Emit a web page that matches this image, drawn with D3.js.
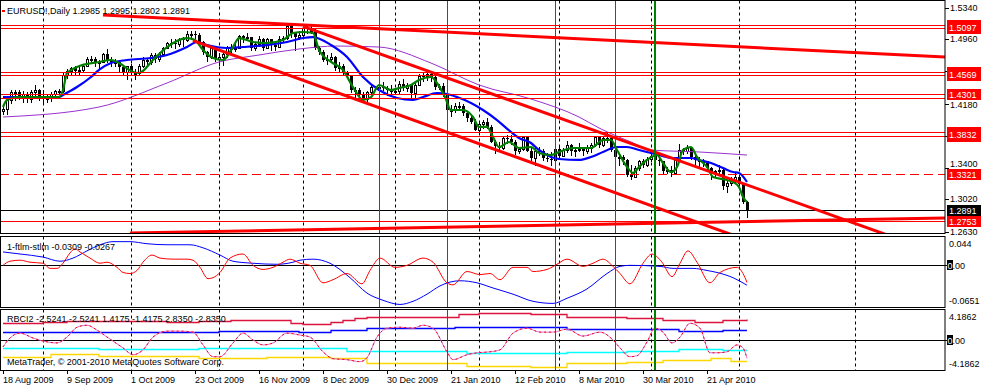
<!DOCTYPE html>
<html><head><meta charset="utf-8">
<script src="https://cdn.jsdelivr.net/npm/d3@7"></script>
<style>
html,body{margin:0;padding:0;background:#fff;}
svg{display:block;font-family:"Liberation Sans",Arial,sans-serif;font-size:9px;}
</style></head><body>
<svg id="c" width="983" height="387"></svg>
<script>
// ---------- DATA ----------
const title = "EURUSD!,Daily  1.2985 1.2995 1.2802 1.2891";
const openP = [1.4090,1.4115,1.4220,1.4320,1.4320,1.4270,1.4300,1.4230,1.4320,1.4340,1.4250,1.4240,1.4260,1.4300,1.4330,1.4330,1.4530,1.4570,1.4610,1.4570,1.4590,1.4640,1.4720,1.4720,1.4690,1.4690,1.4780,1.4700,1.4680,1.4680,1.4620,1.4560,1.4635,1.4550,1.4550,1.4640,1.4710,1.4680,1.4770,1.4720,1.4780,1.4860,1.4920,1.4910,1.4900,1.4960,1.4950,1.5020,1.5020,1.5010,1.4930,1.4800,1.4740,1.4850,1.4720,1.4740,1.4780,1.4850,1.4860,1.4860,1.5000,1.4980,1.4990,1.4860,1.4900,1.4960,1.4860,1.4960,1.4890,1.4870,1.4960,1.4970,1.5120,1.5030,1.4990,1.5010,1.5100,1.5080,1.5050,1.4860,1.4810,1.4710,1.4720,1.4750,1.4610,1.4640,1.4550,1.4520,1.4340,1.4340,1.4290,1.4230,1.4320,1.4380,1.4370,1.4380,1.4370,1.4350,1.4320,1.4330,1.4420,1.4370,1.4410,1.4310,1.4410,1.4520,1.4510,1.4540,1.4500,1.4380,1.4390,1.4290,1.4100,1.4100,1.4150,1.4150,1.4070,1.4000,1.3960,1.3865,1.3930,1.3960,1.3900,1.3720,1.3670,1.3640,1.3760,1.3750,1.3720,1.3600,1.3630,1.3770,1.3610,1.3520,1.3610,1.3600,1.3520,1.3510,1.3500,1.3630,1.3540,1.3620,1.3680,1.3600,1.3620,1.3630,1.3600,1.3640,1.3680,1.3770,1.3680,1.3760,1.3760,1.3620,1.3530,1.3530,1.3500,1.3320,1.3290,1.3400,1.3480,1.3440,1.3510,1.3550,1.3500,1.3480,1.3360,1.3370,1.3340,1.3500,1.3620,1.3610,1.3640,1.3530,1.3500,1.3470,1.3480,1.3400,1.3350,1.3360,1.3380,1.3180,1.3220,1.3240,1.3290,1.3200,1.2985];
const highP = [1.4145,1.4230,1.4340,1.4350,1.4350,1.4330,1.4320,1.4340,1.4400,1.4360,1.4350,1.4290,1.4320,1.4350,1.4360,1.4550,1.4600,1.4620,1.4630,1.4620,1.4660,1.4740,1.4760,1.4740,1.4710,1.4790,1.4845,1.4740,1.4720,1.4700,1.4640,1.4640,1.4660,1.4600,1.4660,1.4750,1.4730,1.4790,1.4790,1.4800,1.4870,1.4930,1.4960,1.4960,1.4970,1.4990,1.5060,1.5060,1.5060,1.5030,1.4940,1.4820,1.4860,1.4880,1.4790,1.4810,1.4880,1.4900,1.4900,1.5010,1.5010,1.5030,1.4990,1.4920,1.5000,1.4970,1.4970,1.4960,1.4920,1.5000,1.5000,1.5145,1.5140,1.5030,1.5060,1.5110,1.5130,1.5145,1.5080,1.4880,1.4830,1.4770,1.4790,1.4760,1.4680,1.4660,1.4580,1.4530,1.4380,1.4370,1.4320,1.4330,1.4400,1.4390,1.4400,1.4440,1.4390,1.4410,1.4340,1.4450,1.4480,1.4430,1.4420,1.4440,1.4540,1.4560,1.4580,1.4560,1.4510,1.4420,1.4430,1.4300,1.4160,1.4190,1.4200,1.4170,1.4080,1.4040,1.3990,1.3950,1.3980,1.4000,1.3920,1.3740,1.3720,1.3790,1.3800,1.3800,1.3740,1.3650,1.3790,1.3780,1.3640,1.3650,1.3650,1.3630,1.3580,1.3590,1.3650,1.3660,1.3640,1.3730,1.3690,1.3650,1.3700,1.3660,1.3680,1.3700,1.3790,1.3770,1.3790,1.3840,1.3780,1.3640,1.3570,1.3560,1.3510,1.3440,1.3420,1.3500,1.3510,1.3530,1.3580,1.3550,1.3530,1.3490,1.3410,1.3420,1.3510,1.3690,1.3640,1.3680,1.3650,1.3560,1.3530,1.3510,1.3490,1.3410,1.3380,1.3440,1.3400,1.3250,1.3290,1.3340,1.3320,1.3210,1.2995];
const lowP = [1.4060,1.4050,1.4190,1.4220,1.4230,1.4200,1.4200,1.4200,1.4280,1.4220,1.4200,1.4200,1.4210,1.4270,1.4300,1.4320,1.4490,1.4540,1.4540,1.4530,1.4560,1.4630,1.4680,1.4640,1.4600,1.4680,1.4680,1.4630,1.4630,1.4580,1.4540,1.4480,1.4530,1.4480,1.4540,1.4620,1.4650,1.4660,1.4680,1.4700,1.4770,1.4850,1.4870,1.4850,1.4880,1.4880,1.4940,1.4980,1.4970,1.4900,1.4780,1.4700,1.4730,1.4700,1.4650,1.4650,1.4740,1.4800,1.4820,1.4860,1.4930,1.4950,1.4830,1.4830,1.4880,1.4830,1.4850,1.4830,1.4830,1.4880,1.4930,1.4960,1.4990,1.4830,1.4960,1.5000,1.5040,1.5030,1.4840,1.4780,1.4700,1.4660,1.4710,1.4590,1.4580,1.4530,1.4500,1.4320,1.4250,1.4270,1.4220,1.4210,1.4300,1.4360,1.4330,1.4350,1.4290,1.4300,1.4310,1.4300,1.4340,1.4330,1.4260,1.4260,1.4400,1.4460,1.4470,1.4460,1.4360,1.4360,1.4270,1.4090,1.4030,1.4080,1.4120,1.4040,1.3970,1.3940,1.3860,1.3850,1.3890,1.3880,1.3710,1.3580,1.3610,1.3630,1.3700,1.3690,1.3570,1.3580,1.3620,1.3600,1.3500,1.3440,1.3560,1.3500,1.3480,1.3440,1.3490,1.3530,1.3540,1.3590,1.3560,1.3540,1.3600,1.3560,1.3580,1.3590,1.3670,1.3660,1.3670,1.3720,1.3600,1.3510,1.3440,1.3450,1.3300,1.3270,1.3290,1.3380,1.3410,1.3420,1.3480,1.3480,1.3440,1.3340,1.3340,1.3300,1.3330,1.3490,1.3570,1.3580,1.3510,1.3420,1.3420,1.3430,1.3380,1.3270,1.3290,1.3340,1.3150,1.3110,1.3190,1.3230,1.3190,1.2980,1.2802];
const closeP = [1.4115,1.4220,1.4320,1.4320,1.4270,1.4300,1.4230,1.4320,1.4340,1.4250,1.4240,1.4260,1.4300,1.4330,1.4330,1.4530,1.4570,1.4610,1.4570,1.4590,1.4640,1.4720,1.4720,1.4690,1.4690,1.4780,1.4700,1.4680,1.4680,1.4620,1.4560,1.4635,1.4550,1.4550,1.4640,1.4710,1.4680,1.4770,1.4720,1.4780,1.4860,1.4920,1.4910,1.4900,1.4960,1.4950,1.5020,1.5020,1.5010,1.4930,1.4800,1.4740,1.4850,1.4720,1.4740,1.4780,1.4850,1.4860,1.4860,1.5000,1.4980,1.4990,1.4860,1.4900,1.4960,1.4860,1.4960,1.4890,1.4870,1.4960,1.4970,1.5120,1.5030,1.4990,1.5010,1.5100,1.5080,1.5050,1.4860,1.4810,1.4710,1.4720,1.4750,1.4610,1.4640,1.4550,1.4520,1.4340,1.4340,1.4290,1.4230,1.4320,1.4380,1.4370,1.4380,1.4370,1.4350,1.4320,1.4330,1.4420,1.4370,1.4410,1.4310,1.4410,1.4520,1.4510,1.4540,1.4500,1.4380,1.4390,1.4290,1.4100,1.4100,1.4150,1.4150,1.4070,1.4000,1.3960,1.3865,1.3930,1.3960,1.3900,1.3720,1.3670,1.3640,1.3760,1.3750,1.3720,1.3600,1.3630,1.3770,1.3610,1.3520,1.3610,1.3600,1.3520,1.3510,1.3500,1.3630,1.3540,1.3620,1.3680,1.3600,1.3620,1.3630,1.3600,1.3640,1.3680,1.3770,1.3680,1.3760,1.3760,1.3620,1.3530,1.3530,1.3500,1.3320,1.3290,1.3400,1.3480,1.3440,1.3510,1.3550,1.3500,1.3480,1.3360,1.3370,1.3340,1.3500,1.3620,1.3610,1.3640,1.3530,1.3500,1.3470,1.3480,1.3400,1.3350,1.3360,1.3380,1.3180,1.3220,1.3240,1.3290,1.3200,1.2985,1.2891];

// moving averages: [bar index, price]
const maFast = [[0,1.4139],[1,1.4224],[4,1.4260],[14,1.4260],[15,1.4345],[16,1.4551],[18.5,1.4624],[24,1.4685],[27,1.4709],[29,1.4672],[32.5,1.4563],[34,1.4551],[37.5,1.4709],[41,1.4866],[46,1.4975],[48,1.4951],[50,1.4830],[52.5,1.4733],[55,1.4709],[57.5,1.4866],[59,1.4975],[62.5,1.4927],[66,1.4915],[70,1.4951],[72.5,1.5036],[75,1.5048],[77.5,1.5036],[79,1.4830],[82,1.4685],[85,1.4588],[87.5,1.4381],[90,1.4224],[92,1.4260],[94,1.4406],[97,1.4345],[99,1.4369],[102,1.4406],[104,1.4466],[107,1.4503],[108.5,1.4430],[110.5,1.4260],[112,1.4103],[115,1.4103],[117.5,1.4018],[119,1.3897],[121,1.3897],[122.5,1.3775],[124,1.3654],[126.5,1.3715],[129,1.3642],[132,1.3654],[134,1.3581],[137,1.3557],[139,1.3594],[142.5,1.3642],[147,1.3642],[150,1.3739],[152,1.3739],[153.5,1.3618],[156,1.3412],[157.5,1.3339],[159,1.3412],[161,1.3497],[163.5,1.3557],[165,1.3460],[167,1.3351],[168.5,1.3412],[170,1.3618],[172,1.3654],[173.5,1.3533],[176,1.3412],[177.5,1.3291],[181,1.3254],[182.5,1.3230],[184,1.3169],[185,1.3048],[186,1.2987]];
const maMid = [[0,1.4260],[14,1.4260],[15,1.4285],[18.5,1.4381],[22,1.4503],[24,1.4588],[27,1.4672],[31,1.4709],[37,1.4733],[41,1.4769],[46,1.4866],[48.5,1.4927],[51,1.4890],[56,1.4854],[60,1.4866],[66,1.4890],[71,1.4927],[75,1.4975],[77.5,1.4987],[82,1.4890],[86,1.4745],[90,1.4503],[94,1.4345],[98.5,1.4248],[102.5,1.4224],[105,1.4260],[108.5,1.4309],[111,1.4297],[113.5,1.4260],[117,1.4188],[120,1.4103],[123.5,1.3981],[127,1.3836],[129,1.3763],[132,1.3703],[134,1.3618],[137,1.3533],[139,1.3509],[144,1.3497],[147,1.3533],[150,1.3594],[153.5,1.3654],[156,1.3654],[159,1.3618],[162,1.3581],[164,1.3557],[167.5,1.3521],[172,1.3521],[174,1.3497],[177,1.3460],[180,1.3400],[182.5,1.3351],[184,1.3339],[186,1.3230]];
const maSlow = [[0,1.4018],[24,1.4139],[41,1.4430],[54,1.4685],[64,1.4769],[74,1.4842],[83.5,1.4878],[94,1.4866],[107,1.4672],[119,1.4406],[132,1.4236],[144,1.4018],[149,1.3885],[157,1.3715],[162,1.3618],[174,1.3594],[186,1.3557]];

// horizontal levels and trend lines (bar index, price)
const levelsSolid = [1.5131,1.5097,1.4569,1.4522,1.4301,1.4250,1.3832,1.3787,1.2753];
const levelDashed = [1.3321];
const bidPrice = 1.2891;
// level markers: [top price, bottom price, shown text]
const labelBoxes = [[1.5131,1.5097,"1.5097"],[1.4569,1.4522,"1.4569"],[1.4301,1.4301,"1.4301"],[1.3832,1.3787,"1.3832"],[1.3321,1.3321,"1.3321"],[1.2753,1.2753,"1.2753"]];
const trendLines = [
  [[25,1.5254],[235.5,1.4745]],
  [[75,1.5116],[235.5,1.2338]],
  [[47.5,1.4943],[235,1.1670]],
  [[31.75,1.2612],[235.5,1.2794]]
];
const priceTicks = [1.5340,1.4960,1.4570,1.4180,1.3790,1.3400,1.3020,1.2630];
const hiddenTicks = [1.4570,1.3790];
const timeLabels = ["18 Aug 2009","9 Sep 2009","1 Oct 2009","23 Oct 2009","16 Nov 2009","8 Dec 2009","30 Dec 2009","21 Jan 2010","12 Feb 2010","8 Mar 2010","30 Mar 2010","21 Apr 2010"];
const timeLabelBars = [0,16,32,48,64,80,96,112,128,144,160,176];
const gridBars = [10,32,54,75,98,119,139,162,184,213];
const vGreenThin = [94,138];
const vGreenThick = [163];
const vRed = [111,153];

// sub window 1: ftlm / stlm
const ftlm = [[0,-0.0003],[1.75,0.0060],[4.25,0.0076],[6.75,0.0045],[10,0.0029],[11.75,-0.0050],[13.5,-0.0050],[15,0.0029],[16.75,0.0187],[18,0.0250],[19.25,0.0203],[21.75,0.0108],[24.25,0.0029],[26,0.0045],[28.5,-0.0034],[30,-0.0113],[31.75,-0.0129],[33.5,-0.0082],[35,0.0045],[37.25,0.0155],[39.25,0.0108],[42.5,0.0092],[46,0.0092],[47.5,0.0076],[49.25,-0.0034],[51.25,-0.0208],[52.5,-0.0193],[54.25,-0.0113],[56.75,0.0108],[60,0.0171],[62.5,-0.0003],[65,-0.0066],[67.5,-0.0034],[70,0.0045],[71.75,0.0092],[74.25,0.0029],[76.75,-0.0003],[80,-0.0272],[82.5,-0.0224],[86,-0.0129],[89.75,-0.0287],[91.75,-0.0082],[94.25,0.0108],[98,-0.0034],[101,-0.0003],[105,0.0108],[107.5,0.0045],[111,-0.0272],[112.5,-0.0303],[116,-0.0098],[119.25,-0.0145],[121.75,-0.0129],[124.25,-0.0224],[127.5,-0.0034],[131,-0.0034],[132.5,-0.0098],[136,-0.0066],[138.5,0.0013],[141,0.0092],[145,-0.0019],[147.5,0.0029],[150,0.0092],[152.5,-0.0019],[154.25,-0.0129],[156.75,-0.0287],[160,0.0029],[162.25,0.0171],[164.75,0.0045],[167.25,-0.0177],[169.25,0.0029],[171.25,0.0219],[173.5,0.0045],[176.75,-0.0272],[179.25,-0.0113],[183.5,-0.0034],[185,-0.0129],[186,-0.0267]];
const stlm = [[0,0.0203],[4.25,0.0171],[10,0.0124],[14.25,0.0060],[17.5,0.0108],[21,0.0219],[24.25,0.0313],[27.5,0.0361],[31.75,0.0361],[36,0.0329],[41,0.0313],[46.75,0.0313],[50,0.0266],[54.25,0.0155],[57.5,0.0060],[62.5,0.0029],[68.5,0.0013],[72.5,0.0045],[74.25,0.0076],[77.5,0.0092],[81.75,0.0029],[86.75,-0.0193],[91,-0.0430],[95,-0.0540],[99.25,-0.0604],[102.5,-0.0556],[106,-0.0446],[109.25,-0.0319],[114.25,-0.0240],[118.5,-0.0272],[122.5,-0.0351],[127.5,-0.0446],[132.5,-0.0556],[137.5,-0.0588],[141,-0.0509],[146,-0.0366],[151,-0.0129],[154.25,-0.0019],[156.75,-0.0003],[164.25,-0.0019],[167.5,-0.0050],[172.5,-0.0050],[176,-0.0082],[178.5,-0.0113],[182.5,-0.0193],[186,-0.0309]];
const sub1Label = "1-ftlm-stlm -0.0309 -0.0267";
const sub1Range = [-0.0651, 0.044];

// sub window 2: RBCI2
const rbci = [[0,-0.945],[1.75,0.270],[4.25,0.945],[7.5,0.270],[10,-0.135],[13.5,-0.405],[16,0.405],[18.5,1.756],[21,2.026],[23.5,1.350],[26,0.405],[30,-1.080],[32.5,-2.026],[35,-1.350],[37.5,0.405],[41,1.215],[44.25,1.215],[47.5,1.080],[50,-0.675],[52.5,-2.296],[54.25,-2.296],[57.5,-0.405],[60,0.945],[62.5,0.000],[65,-0.675],[67.5,-0.405],[71,0.945],[74.25,0.675],[76.75,0.405],[80,-1.621],[82.5,-2.566],[86,-2.701],[89.25,-2.971],[91,-2.431],[93.5,0.405],[96,1.621],[99.25,1.756],[102.5,1.621],[105,2.026],[107.5,1.621],[111,-1.621],[112.5,-2.701],[116,-2.026],[118.5,-1.756],[121.75,-1.621],[124.25,-1.350],[127.5,0.945],[131,1.621],[134.25,1.080],[137.5,1.080],[141,1.486],[145,0.540],[149.25,1.080],[152.5,0.000],[154.25,-1.080],[156.75,-2.296],[158.5,-2.161],[161,-0.270],[163,1.621],[165,1.080],[167.25,-0.405],[169.25,0.405],[171.75,2.296],[174.25,1.621],[176.75,-1.756],[178.5,-1.756],[181,-1.621],[183.5,-0.675],[185,-1.080],[186,-2.5241]];
const bandUp2 = [[0,2.30],[10,2.43],[16,2.57],[41,2.43],[49,2.57],[57,2.70],[72,2.30],[75,2.16],[82,2.43],[85,2.70],[88,2.97],[91,3.11],[114,3.51],[119,3.65],[132,3.51],[141,3.11],[156,2.97],[165,2.70],[173,2.43],[180,2.70],[186,2.835]];
const bandUp1 = [[0,1.08],[54,1.215],[74,1.08],[82,1.35],[91,1.62],[113,1.756],[141,1.486],[169,1.215],[180,1.4175],[186,1.4175]];
const bandDn1 = [[0,-1.08],[24,-1.215],[49,-1.08],[86,-1.486],[116,-1.756],[141,-1.621],[156,-1.486],[169,-1.215],[180,-1.4175],[186,-1.4175]];
const bandDn2 = [[0,-2.30],[12,-1.89],[24,-2.16],[49,-2.43],[66,-2.30],[82,-2.43],[91,-3.11],[116,-3.51],[132,-3.65],[141,-3.11],[156,-2.97],[165,-2.70],[177,-2.43],[182,-2.835],[186,-2.835]];
const sub2Label = "RBCI2 -2.5241 -2.5241 1.4175 -1.4175 2.8350 -2.8350";
const sub2Range = [-4.1862, 4.1862];
const copyright = "MetaTrader, \u00A9 2001-2010 MetaQuotes Software Corp.";

// ---------- DRAW ----------
const svg = d3.select("#c");
const R = 945; // right edge of plot area
const panes = [{t:0.5,b:233.5},{t:236.5,b:307.5},{t:309.5,b:370.5}];

const x = d3.scaleLinear().domain([0,186]).range([3,747]);
const y = d3.scaleLinear().domain([1.2624,1.5436]).range([232,0]);
const y1 = d3.scaleLinear().domain(sub1Range).range([panes[1].b,panes[1].t]);
const y2 = d3.scaleLinear().domain(sub2Range).range([panes[2].b,panes[2].t]);
const px = v => Math.round(v)+0.5;

const defs = svg.append("defs");
panes.forEach((p,k)=>{
  defs.append("clipPath").attr("id","clip"+k).append("rect")
    .attr("x",1).attr("y",p.t+0.5).attr("width",R-1).attr("height",p.b-p.t-1);
});

svg.append("rect").attr("width",983).attr("height",387).attr("fill","#fff");

panes.forEach((p,k)=>{
  const g = svg.append("g").attr("clip-path",`url(#clip${k})`);
  g.selectAll("line.grid").data(gridBars).join("line")
    .attr("x1",d=>px(x(d))).attr("x2",d=>px(x(d))).attr("y1",p.t).attr("y2",p.b)
    .attr("stroke","#000").attr("stroke-dasharray","3,3");
});

// ---- main pane ----
const gm = svg.append("g").attr("clip-path","url(#clip0)");
closeP.forEach((c,i)=>{
  const o=openP[i], h=highP[i], l=lowP[i];
  const cx = Math.round(x(i));
  gm.append("line").attr("x1",cx+0.5).attr("x2",cx+0.5)
    .attr("y1",Math.round(y(h))).attr("y2",Math.round(y(l))+1).attr("stroke","#000");
  const top = Math.round(y(Math.max(o,c))), bot = Math.round(y(Math.min(o,c)));
  if (c>=o) {
    gm.append("rect").attr("x",cx-0.5).attr("y",top+0.5).attr("width",2).attr("height",Math.max(bot-top,1))
      .attr("fill","#fff").attr("stroke","#000");
  } else {
    gm.append("rect").attr("x",cx-1).attr("y",top).attr("width",3).attr("height",Math.max(bot-top,1))
      .attr("fill","#000");
  }
});
const lineP = d3.line().x(d=>x(d[0])).y(d=>y(d[1])).curve(d3.curveMonotoneX);
gm.append("path").attr("d",lineP(maSlow)).attr("fill","none").attr("stroke","#9932CC").attr("stroke-width",1);
gm.append("path").attr("d",lineP(maMid)).attr("fill","none").attr("stroke","#0000FF").attr("stroke-width",2.2);
gm.append("path").attr("d",lineP(maFast)).attr("fill","none").attr("stroke","#008000").attr("stroke-width",2.2);

gm.selectAll("line.lv").data(levelsSolid).join("line")
  .attr("x1",0).attr("x2",R).attr("y1",d=>px(y(d))).attr("y2",d=>px(y(d)))
  .attr("stroke","#FF0000");
gm.selectAll("line.ld").data(levelDashed).join("line")
  .attr("x1",0).attr("x2",R).attr("y1",d=>px(y(d))).attr("y2",d=>px(y(d)))
  .attr("stroke","#FF0000").attr("stroke-dasharray","9,5");
gm.append("line").attr("x1",0).attr("x2",R).attr("y1",px(y(bidPrice))).attr("y2",px(y(bidPrice))).attr("stroke","#000");
trendLines.forEach(t=>{
  gm.append("line").attr("x1",x(t[0][0])).attr("y1",y(t[0][1])).attr("x2",x(t[1][0])).attr("y2",y(t[1][1]))
    .attr("stroke","#FF0000").attr("stroke-width",3);
});

// ---- sub window 1 ----
const g1 = svg.append("g").attr("clip-path","url(#clip1)");
g1.append("line").attr("x1",0).attr("x2",R).attr("y1",px(y1(0))).attr("y2",px(y1(0))).attr("stroke","#000");
const line1 = d3.line().x(d=>x(d[0])).y(d=>y1(d[1])).curve(d3.curveMonotoneX);
g1.append("path").attr("d",line1(stlm)).attr("fill","none").attr("stroke","#0000FF");
g1.append("path").attr("d",line1(ftlm)).attr("fill","none").attr("stroke","#FF0000");

// ---- sub window 2 ----
const g2 = svg.append("g").attr("clip-path","url(#clip2)");
g2.append("line").attr("x1",0).attr("x2",R).attr("y1",px(y2(0))).attr("y2",px(y2(0))).attr("stroke","#000");
const stepL = d3.line().x(d=>x(d[0])).y(d=>Math.round(y2(d[1]))+0.5).curve(d3.curveStepAfter);
[[bandUp2,"#DC143C"],[bandUp1,"#0000FF"],[bandDn1,"#00FFFF"],[bandDn2,"#FFD700"]].forEach(([d,c])=>{
  g2.append("path").attr("d",stepL(d)).attr("fill","none").attr("stroke",c).attr("stroke-width",1.3);
});
const line2 = d3.line().x(d=>x(d[0])).y(d=>y2(d[1])).curve(d3.curveMonotoneX);
g2.append("path").attr("d",line2(rbci)).attr("fill","none").attr("stroke","#DA70D6");
g2.append("path").attr("d",line2(rbci)).attr("fill","none").attr("stroke","#FF0000").attr("stroke-dasharray","2,3");

panes.forEach((p,k)=>{
  const g = svg.append("g").attr("clip-path",`url(#clip${k})`);
  vGreenThin.forEach(b=>g.append("line").attr("x1",px(x(b))).attr("x2",px(x(b))).attr("y1",p.t).attr("y2",p.b).attr("stroke","#008000"));
  vRed.forEach(b=>g.append("line").attr("x1",px(x(b))).attr("x2",px(x(b))).attr("y1",p.t).attr("y2",p.b).attr("stroke","#FF0000"));
  vGreenThick.forEach(b=>g.append("line").attr("x1",Math.round(x(b))).attr("x2",Math.round(x(b))).attr("y1",p.t).attr("y2",p.b).attr("stroke","#008000").attr("stroke-width",2));
});

panes.forEach(p=>{
  svg.append("rect").attr("x",0.5).attr("y",p.t).attr("width",R-0.5).attr("height",p.b-p.t)
    .attr("fill","none").attr("stroke","#000");
});

// ---- texts ----
svg.append("rect").attr("x",2).attr("y",10).attr("width",3).attr("height",2).attr("fill","#FF0000");
svg.append("text").attr("x",7).attr("y",14).text(title);
svg.append("text").attr("x",7).attr("y",250).text(sub1Label);
svg.append("text").attr("x",7).attr("y",322).text(sub2Label);
svg.append("text").attr("x",7).attr("y",365).text(copyright);

// right price axis
const ax = svg.append("g");
const boxes = labelBoxes.map(([a,b,t])=>{
  const ya = Math.round(y(a)), yb = Math.round(y(b));
  return {top: ya-5, bot: yb+6, mid: Math.round((ya+yb)/2), t};
});
priceTicks.forEach(t=>{
  const yy = Math.round(y(t));
  ax.append("line").attr("x1",R).attr("x2",R+4).attr("y1",yy+0.5).attr("y2",yy+0.5).attr("stroke","#000");
  if (hiddenTicks.includes(t)) return;
  let base = yy+3;
  boxes.forEach(b=>{
    if (base+2 > b.top && base-8 < b.bot) {
      base = (yy > b.mid) ? Math.max(base, b.bot+8) : Math.min(base, b.top-2);
    }
  });
  ax.append("text").attr("x",R+5).attr("y",base).text(t.toFixed(4));
});
boxes.forEach(b=>{
  ax.append("rect").attr("x",R+2).attr("y",b.top).attr("width",34).attr("height",b.bot-b.top).attr("fill","#FF0000");
  ax.append("text").attr("x",R+4).attr("y",b.mid+3.5).attr("fill","#fff").text(b.t);
});
{
  const yy = Math.round(y(bidPrice));
  ax.append("rect").attr("x",R+2).attr("y",yy-5).attr("width",34).attr("height",11).attr("fill","#000");
  ax.append("text").attr("x",R+4).attr("y",yy+3.5).attr("fill","#fff").text(bidPrice.toFixed(4));
}
const subAx = [
  [sub1Range[1].toFixed(3), 247],[null, 268, y1(0)],[sub1Range[0].toFixed(4), 304],
  [sub2Range[1].toFixed(4), 320],[null, 343, y2(0)],[sub2Range[0].toFixed(4), 367]
];
subAx.forEach(([t,yy,zy])=>{
  if (t!==null) { svg.append("text").attr("x",R+4).attr("y",yy).text(t); }
  else {
    const z = Math.round(zy);
    svg.append("line").attr("x1",R).attr("x2",R+3).attr("y1",z+0.5).attr("y2",z+0.5).attr("stroke","#000");
    svg.append("rect").attr("x",R+2).attr("y",z-5).attr("width",6).attr("height",10).attr("fill","#000");
    svg.append("text").attr("x",R+2.5).attr("y",z+3.5).attr("fill","#fff").text("0");
    svg.append("text").attr("x",R+7.5).attr("y",z+3.5).text(".00");
  }
});

// time axis
timeLabelBars.forEach((b,i)=>{
  const xx = Math.round(x(b));
  svg.append("line").attr("x1",xx+0.5).attr("x2",xx+0.5).attr("y1",370).attr("y2",374).attr("stroke","#000");
  svg.append("text").attr("x",xx).attr("y",383).text(timeLabels[i]);
});
</script>
</body></html>
